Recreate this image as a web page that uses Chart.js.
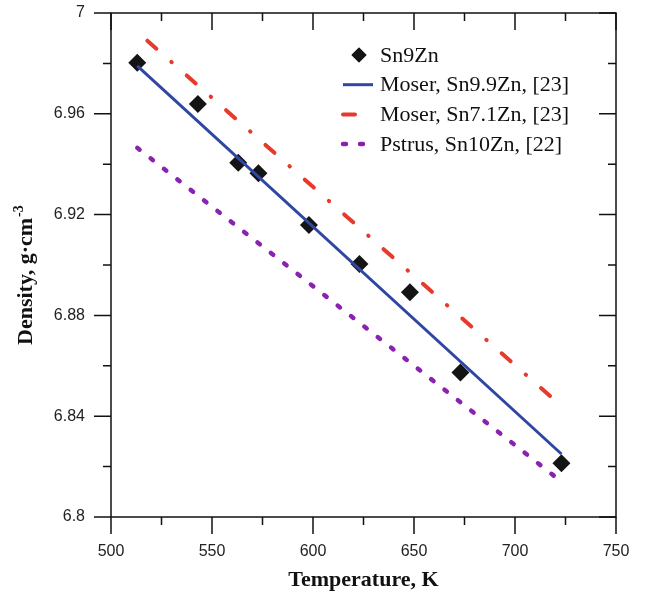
<!DOCTYPE html>
<html>
<head>
<meta charset="utf-8">
<title>Density of Sn-Zn melts</title>
<script src="https://cdn.jsdelivr.net/npm/chart.js@4.4.0/dist/chart.umd.min.js"></script>
<style>
  html, body { margin: 0; padding: 0; background: #fff; }
</style>
</head>
<body>
<canvas id="densityChart" width="649" height="595"></canvas>
<script>
// measured Sn9Zn density
const tempK = [513, 543, 563, 573, 598, 623, 648, 673, 723];
const densSn9Zn = [6.9803, 6.9639, 6.9406, 6.9364, 6.9159, 6.9004, 6.8892, 6.8573, 6.8213];

// literature fits, end points only
const moser99T = [513, 723];
const moser99D = [6.979, 6.825];
const moser71T = [518, 723];
const moser71D = [6.989, 6.844];
const pstrusT = [513, 723];
const pstrusD = [6.9465, 6.814];

const seriesNames = ["Sn9Zn", "Moser, Sn9.9Zn, [23]", "Moser, Sn7.1Zn, [23]", "Pstrus, Sn10Zn, [22]"];

// labelled ticks (minor ticks sit half way between)
const xTickLabels = [500, 550, 600, 650, 700, 750];
const yTickLabels = [6.8, 6.84, 6.88, 6.92, 6.96, 7];

const toXY = (xs, ys) => xs.map((x, i) => ({ x: x, y: ys[i] }));
const isLabelled = (v, list) => list.some(t => Math.abs(t - v) < 1e-6);

// box around the plot with ticks: outward on left/bottom, inward on top/right
const frameTicks = {
  id: "frameTicks",
  afterDraw(chart) {
    const { ctx, chartArea: a, scales } = chart;
    const MAJOR = 17, MINOR = 8;
    ctx.save();
    ctx.strokeStyle = "#111";
    ctx.lineWidth = 1.5;
    ctx.strokeRect(a.left, a.top, a.right - a.left, a.bottom - a.top);
    ctx.beginPath();
    scales.x.ticks.forEach(t => {
      const px = scales.x.getPixelForValue(t.value);
      const len = isLabelled(t.value, xTickLabels) ? MAJOR : MINOR;
      ctx.moveTo(px, a.bottom); ctx.lineTo(px, a.bottom + len);
      ctx.moveTo(px, a.top); ctx.lineTo(px, a.top + len);
    });
    scales.y.ticks.forEach(t => {
      const py = scales.y.getPixelForValue(t.value);
      const len = isLabelled(t.value, yTickLabels) ? MAJOR : MINOR;
      ctx.moveTo(a.left - len, py); ctx.lineTo(a.left, py);
      ctx.moveTo(a.right - len, py); ctx.lineTo(a.right, py);
    });
    ctx.stroke();

    // y title with superscript
    ctx.translate(32, 345);
    ctx.rotate(-Math.PI / 2);
    ctx.fillStyle = "#111";
    ctx.textBaseline = "alphabetic";
    ctx.textAlign = "left";
    ctx.font = 'bold 22px "Liberation Serif"';
    const main = "Density, g\u00B7cm";
    ctx.fillText(main, 0, 0);
    const w = ctx.measureText(main).width;
    ctx.font = 'bold 14px "Liberation Serif"';
    ctx.fillText("-3", w + 1, -9);
    ctx.restore();
  }
};

// legend placed inside the plot, one entry per row
const insideLegend = {
  id: "insideLegend",
  afterDatasetsDraw(chart) {
    const { ctx, chartArea: a } = chart;
    const x0 = a.left + 230, textX = a.left + 269;
    let y = a.top + 42;
    ctx.save();
    chart.data.datasets.forEach((ds, i) => {
      if (ds.showLine) {
        ctx.beginPath();
        ctx.strokeStyle = ds.borderColor;
        ctx.lineWidth = ds.borderWidth;
        ctx.lineCap = ds.borderCapStyle || "butt";
        ctx.setLineDash(ds.borderDash || []);
        ctx.moveTo(x0 + 2, y);
        ctx.lineTo(x0 + 32, y);
        ctx.stroke();
        ctx.setLineDash([]);
      } else {
        Chart.helpers.drawPoint(ctx, { pointStyle: "rectRot", radius: 7.5, borderWidth: 0 }, x0 + 18, y);
        ctx.fillStyle = ds.backgroundColor;
        ctx.fill();
      }
      ctx.fillStyle = "#111";
      ctx.font = '22px "Liberation Serif"';
      ctx.textBaseline = "middle";
      ctx.fillText(ds.label, textX, y + 1);
      y += 29.7;
    });
    ctx.restore();
  }
};

new Chart(document.getElementById("densityChart"), {
  type: "scatter",
  data: {
    datasets: [
      {
        label: seriesNames[0],
        data: toXY(tempK, densSn9Zn),
        pointStyle: "rectRot",
        pointRadius: 9,
        backgroundColor: "#141414",
        borderWidth: 0,
        showLine: false,
        order: 1
      },
      {
        label: seriesNames[1],
        data: toXY(moser99T, moser99D),
        showLine: true,
        pointRadius: 0,
        borderColor: "#2f47a3",
        borderWidth: 3,
        order: 0
      },
      {
        label: seriesNames[2],
        data: toXY(moser71T, moser71D),
        showLine: true,
        pointRadius: 0,
        borderColor: "#e53a2c",
        borderWidth: 4,
        borderDash: [12, 20, 0.5, 20],
        borderCapStyle: "round",
        order: 0
      },
      {
        label: seriesNames[3],
        data: toXY(pstrusT, pstrusD),
        showLine: true,
        pointRadius: 0,
        borderColor: "#8a22b0",
        borderWidth: 4.5,
        borderDash: [3, 14],
        borderCapStyle: "round",
        order: 0
      }
    ]
  },
  options: {
    responsive: false,
    animation: false,
    devicePixelRatio: 1,
    layout: { padding: { left: 0, right: 33, top: 13, bottom: 0 } },
    plugins: {
      legend: { display: false },
      tooltip: { enabled: false }
    },
    scales: {
      x: {
        type: "linear",
        min: 500,
        max: 750,
        afterFit: s => { s.height = 78; },
        // tick marks come from frameTicks; tickLength only spaces the labels
        grid: { display: false, drawTicks: true, tickLength: 25 },
        border: { display: false },
        ticks: {
          stepSize: 25,
          autoSkip: false,
          maxRotation: 0,
          padding: 0,
          color: "#222",
          font: { family: '"Liberation Sans"', size: 16 },
          callback: v => isLabelled(v, xTickLabels) ? String(v) : ""
        },
        title: {
          display: true,
          text: "Temperature, K",
          color: "#111",
          font: { family: '"Liberation Serif"', size: 22, weight: "bold" },
          padding: { top: 0, bottom: 1 }
        }
      },
      y: {
        type: "linear",
        min: 6.8,
        max: 7,
        afterFit: s => { s.width = 111; },
        grid: { display: false, drawTicks: true, tickLength: 26 },
        border: { display: false },
        ticks: {
          stepSize: 0.02,
          autoSkip: false,
          padding: 0,
          color: "#222",
          font: { family: '"Liberation Sans"', size: 16 },
          callback: v => isLabelled(v, yTickLabels) ? String(Number(v.toFixed(2))) : ""
        }
      }
    }
  },
  plugins: [frameTicks, insideLegend]
});
</script>
</body>
</html>
